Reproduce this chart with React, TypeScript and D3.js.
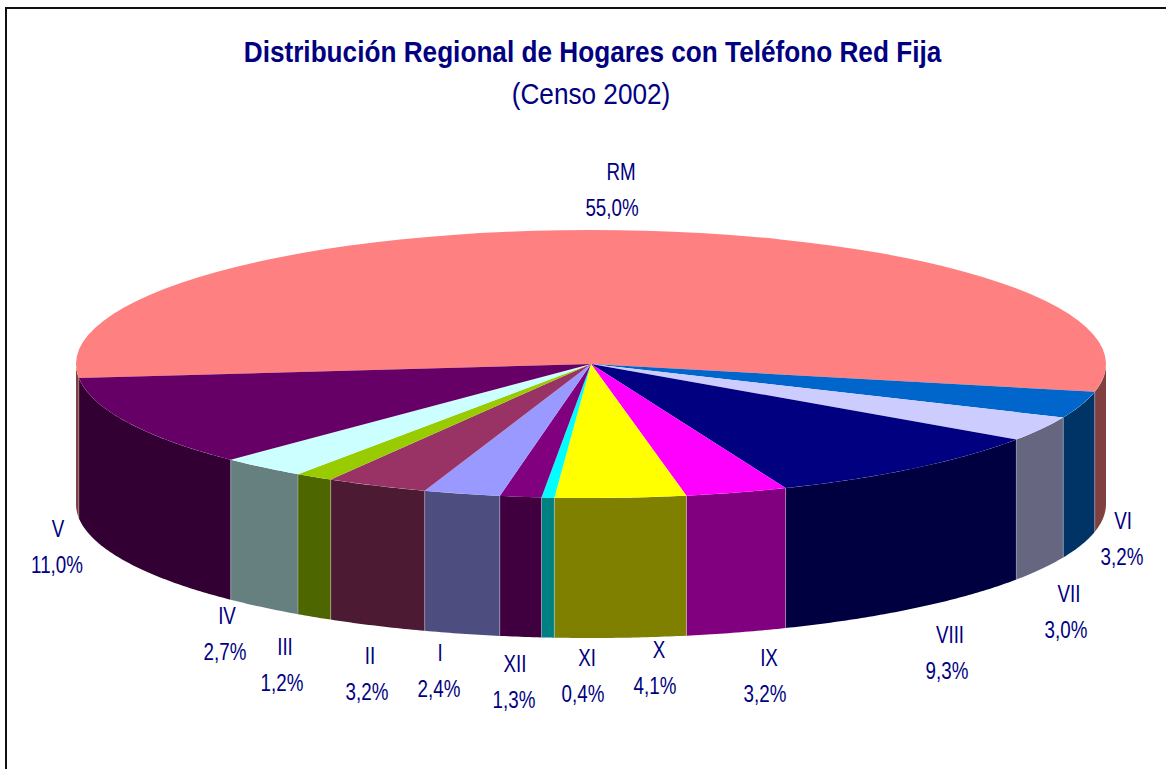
import React from "react";
import * as d3 from "d3";

const regions = ["RM", "VI", "VII", "VIII", "IX", "X", "XI", "XII", "I", "II", "III", "IV", "V"];
const shares = [55.0, 3.2, 3.0, 9.3, 3.2, 4.1, 0.4, 1.3, 2.4, 3.2, 1.2, 2.7, 11.0];
const colours = ["#FF8080", "#0066CC", "#CCCCFF", "#000080", "#FF00FF", "#FFFF00", "#00FFFF", "#800080", "#9999FF", "#993366", "#99CC00", "#CCFFFF", "#660066"];
const titleText = "Distribución Regional de Hogares con Teléfono Red Fija";
const subtitleText = "(Censo 2002)";

// layout only: label centres (name line), one per region
const labelX = [621, 1123, 1069, 950, 769, 659, 587, 515, 440, 370, 285, 227, 58];
const labelY = [172, 521, 594, 635, 658, 650, 658, 664, 653, 656, 647, 616, 529];
const valueDX = [-9, -1, -3, -3, -4, -4, -4, -1, -1, -3, -3, -2, -1];

const W = 1166, H = 769;
const cx = 591, cy = 364, rx = 515, ry = 134, depth = 140;
const DEG = Math.PI / 180;
const startAngle = -96 * DEG;

const pie = d3.pie<number>().sort(null).startAngle(startAngle).endAngle(startAngle + 2 * Math.PI);
const arcs = pie(shares);
const arcGen = d3.arc<any>().innerRadius(0).outerRadius(rx);
const line = d3.line<[number, number]>();
const px = (a: number) => cx + rx * Math.sin(a);
const py = (a: number) => cy - ry * Math.cos(a);
const wallColour = (c: string) => {
  const r = d3.rgb(c);
  return d3.rgb(r.r / 2, r.g / 2, r.b / 2).formatHex();
};
const fmt = (v: number) => v.toFixed(1).replace(".", ",") + "%";

// the front half of the rim (angles between 90° and 270°) is the only part visible
function wall(a0: number, a1: number) {
  const lo = Math.max(a0, Math.PI / 2), hi = Math.min(a1, 1.5 * Math.PI);
  const lo2 = Math.max(a0 + 2 * Math.PI, Math.PI / 2), hi2 = Math.min(a1 + 2 * Math.PI, 1.5 * Math.PI);
  const segs: string[] = [];
  for (const [s, e] of [[lo, hi], [lo2, hi2]]) {
    if (e <= s) continue;
    const n = Math.max(2, Math.ceil((e - s) / (0.5 * DEG)));
    const top = d3.range(n + 1).map((i) => s + ((e - s) * i) / n);
    const pts: [number, number][] = [
      ...top.map((a) => [px(a), py(a)] as [number, number]),
      ...top.slice().reverse().map((a) => [px(a), py(a) + depth] as [number, number]),
    ];
    segs.push(line(pts) + "Z");
  }
  return segs.join("");
}

const textFill = "#000080";
const labelFont = "'Liberation Sans', Arial, sans-serif";

function Squeezed(props: { x: number; y: number; size: number; sx: number; bold?: boolean; children: React.ReactNode }) {
  return (
    <text
      transform={`translate(${props.x},${props.y}) scale(${props.sx},1)`}
      textAnchor="middle"
      dominantBaseline="central"
      fontFamily={labelFont}
      fontSize={props.size}
      fontWeight={props.bold ? 700 : 400}
      fill={textFill}
    >
      {props.children}
    </text>
  );
}

export default function App() {
  return (
    <svg width={W} height={H} style={{ position: "absolute", left: 0, top: 0, display: "block" }}>
      <rect width={W} height={H} fill="#fff" />
      <path d={`M6,${H + 5}V8H${W + 5}`} fill="none" stroke="#111" strokeWidth={2} />
      <Squeezed x={592.5} y={52} size={30} sx={0.873} bold>{titleText}</Squeezed>
      <Squeezed x={591} y={94} size={30} sx={0.873}>{subtitleText}</Squeezed>

      {arcs.map((d, i) => (
        <path key={regions[i]} d={wall(d.startAngle, d.endAngle)} fill={wallColour(colours[i])} />
      ))}
      {arcs.map((d, i) => {
        const a = d.startAngle;
        const norm = ((a % (2 * Math.PI)) + 2 * Math.PI) % (2 * Math.PI);
        if (norm < Math.PI / 2 || norm > 1.5 * Math.PI) return null;
        return <line key={regions[i]} x1={px(a)} x2={px(a)} y1={py(a)} y2={py(a) + depth} stroke="#fff" strokeOpacity={0.3} strokeWidth={1} />;
      })}
      <g transform={`translate(${cx},${cy}) scale(1,${ry / rx})`}>
        {arcs.map((d, i) => (
          <path key={regions[i]} d={arcGen(d) as string} fill={colours[i]} />
        ))}
      </g>
      {regions.map((r, i) => (
        <g key={r}>
          <Squeezed x={labelX[i]} y={labelY[i]} size={23} sx={0.816}>{r}</Squeezed>
          <Squeezed x={labelX[i] + valueDX[i]} y={labelY[i] + 36} size={23} sx={0.816}>{fmt(shares[i])}</Squeezed>
        </g>
      ))}
    </svg>
  );
}
